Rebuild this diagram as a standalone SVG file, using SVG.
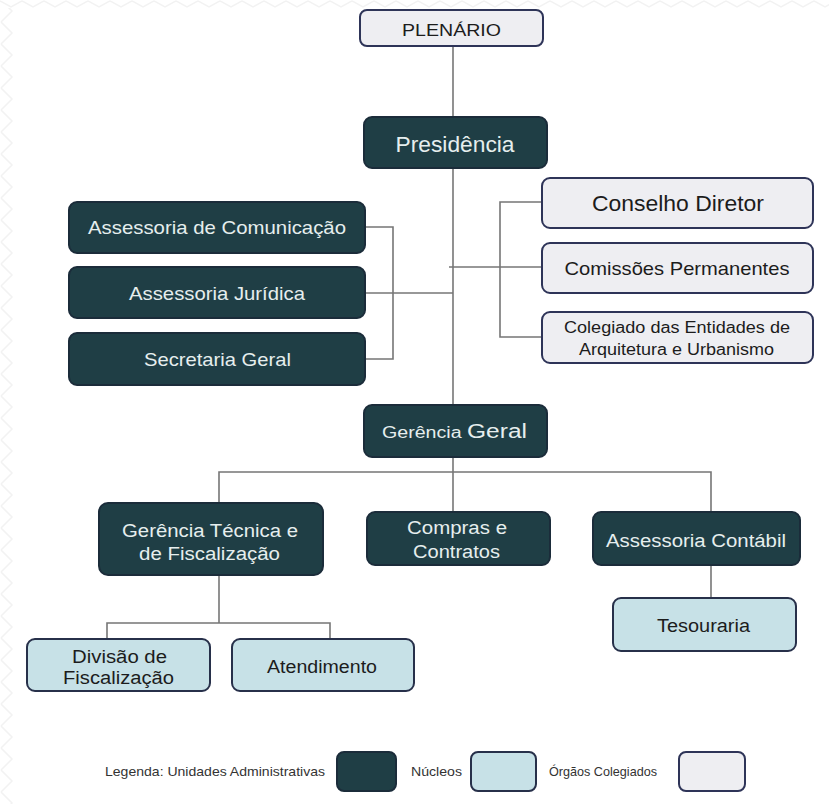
<svg xmlns="http://www.w3.org/2000/svg" width="829" height="804" viewBox="0 0 829 804">
  <defs>
    <pattern id="zzTop" x="0" y="0" width="22" height="8" patternUnits="userSpaceOnUse">
      <path d="M0 1 L11 7 L22 1" fill="none" stroke="#f2f2f2" stroke-width="1.5"/>
    </pattern>
    <pattern id="zzLeft" x="0" y="0" width="14" height="22" patternUnits="userSpaceOnUse">
      <path d="M1 0 L12 11 L1 22" fill="none" stroke="#f2f2f2" stroke-width="1.5"/>
    </pattern>
  </defs>
  <style>
    .adm { fill: #1f3e45; stroke: #1b2c3a; stroke-width: 2; }
    .nuc { fill: #c7e1e7; stroke: #27304a; stroke-width: 2; }
    .col { fill: #eeeef2; stroke: #2e3458; stroke-width: 2; }
    .tw { fill: #e6eeee; font-family: "Liberation Sans", Arial, sans-serif; text-anchor: middle; }
    .tk { fill: #1c1c1c; font-family: "Liberation Sans", Arial, sans-serif; text-anchor: middle; }
    .lg { fill: #333; font-family: "Liberation Sans", Arial, sans-serif; font-size: 13px; }
    .ln { fill: none; stroke: #767676; stroke-width: 1.6; }
  </style>
  <rect width="829" height="804" fill="#ffffff"/>
  <rect x="0" y="0" width="829" height="8" fill="url(#zzTop)"/>
  <rect x="0" y="8" width="14" height="796" fill="url(#zzLeft)"/>

  <g id="connectors" class="ln">
    <path d="M453 47 V117"/>
    <path d="M453 168 V405"/>
    <path d="M365 227 H393 V359 H365"/>
    <path d="M365 293 H453"/>
    <path d="M542 202 H500 V337 H542"/>
    <path d="M449 267 H542"/>
    <path d="M219 503 V472 H711 V512"/>
    <path d="M453 457 V512"/>
    <path d="M219 575 V623"/>
    <path d="M107 639 V623 H330 V639"/>
    <path d="M711 565 V598"/>
  </g>

  <g id="plenario">
    <rect class="col" x="360" y="10" width="183" height="36" rx="7"/>
    <text class="tk" x="451.5" y="36" font-size="17" textLength="99" lengthAdjust="spacingAndGlyphs">PLENÁRIO</text>
  </g>
  <g id="presidencia">
    <rect class="adm" x="364" y="117" width="183" height="51" rx="8"/>
    <text class="tw" x="455" y="152" font-size="22" textLength="119" lengthAdjust="spacingAndGlyphs">Presidência</text>
  </g>
  <g id="conselho-diretor">
    <rect class="col" x="542" y="178" width="271" height="50" rx="8"/>
    <text class="tk" x="678" y="211" font-size="22" textLength="172" lengthAdjust="spacingAndGlyphs">Conselho Diretor</text>
  </g>
  <g id="comissoes">
    <rect class="col" x="542" y="243" width="271" height="50" rx="8"/>
    <text class="tk" x="677" y="275" font-size="19" textLength="225" lengthAdjust="spacingAndGlyphs">Comissões Permanentes</text>
  </g>
  <g id="colegiado">
    <rect class="col" x="542" y="312" width="271" height="51" rx="8"/>
    <text class="tk" x="677" y="333" font-size="16" textLength="226" lengthAdjust="spacingAndGlyphs">Colegiado das Entidades de</text>
    <text class="tk" x="676.5" y="355" font-size="16" textLength="195" lengthAdjust="spacingAndGlyphs">Arquitetura e Urbanismo</text>
  </g>
  <g id="assessoria-comunicacao">
    <rect class="adm" x="69" y="202" width="296" height="51" rx="8"/>
    <text class="tw" x="217" y="234" font-size="19" textLength="258" lengthAdjust="spacingAndGlyphs">Assessoria de Comunicação</text>
  </g>
  <g id="assessoria-juridica">
    <rect class="adm" x="69" y="267" width="296" height="51" rx="8"/>
    <text class="tw" x="217" y="300" font-size="19" textLength="176" lengthAdjust="spacingAndGlyphs">Assessoria Jurídica</text>
  </g>
  <g id="secretaria-geral">
    <rect class="adm" x="69" y="333" width="296" height="52" rx="8"/>
    <text class="tw" x="217.5" y="366" font-size="19" textLength="147" lengthAdjust="spacingAndGlyphs">Secretaria Geral</text>
  </g>
  <g id="gerencia-geral">
    <rect class="adm" x="364" y="405" width="183" height="52" rx="8"/>
    <text class="tw" x="454.5" y="438" textLength="145" lengthAdjust="spacingAndGlyphs"><tspan font-size="16">Gerência </tspan><tspan font-size="20">Geral</tspan></text>
  </g>
  <g id="gerencia-tecnica">
    <rect class="adm" x="99" y="503" width="224" height="72" rx="9"/>
    <text class="tw" x="210" y="537" font-size="18" textLength="176" lengthAdjust="spacingAndGlyphs">Gerência Técnica e</text>
    <text class="tw" x="209.5" y="560" font-size="18" textLength="141" lengthAdjust="spacingAndGlyphs">de Fiscalização</text>
  </g>
  <g id="compras">
    <rect class="adm" x="367" y="512" width="183" height="53" rx="8"/>
    <text class="tw" x="457" y="534" font-size="18" textLength="100" lengthAdjust="spacingAndGlyphs">Compras e</text>
    <text class="tw" x="456.5" y="558" font-size="18" textLength="87" lengthAdjust="spacingAndGlyphs">Contratos</text>
  </g>
  <g id="assessoria-contabil">
    <rect class="adm" x="593" y="512" width="207" height="53" rx="8"/>
    <text class="tw" x="696" y="547" font-size="18" textLength="180" lengthAdjust="spacingAndGlyphs">Assessoria Contábil</text>
  </g>
  <g id="tesouraria">
    <rect class="nuc" x="613" y="598" width="183" height="53" rx="8"/>
    <text class="tk" x="703.5" y="632" font-size="18" textLength="93" lengthAdjust="spacingAndGlyphs">Tesouraria</text>
  </g>
  <g id="divisao-fiscalizacao">
    <rect class="nuc" x="27" y="639" width="183" height="52" rx="8"/>
    <text class="tk" x="119.5" y="663" font-size="18" textLength="95" lengthAdjust="spacingAndGlyphs">Divisão de</text>
    <text class="tk" x="118.5" y="684" font-size="18" textLength="111" lengthAdjust="spacingAndGlyphs">Fiscalização</text>
  </g>
  <g id="atendimento">
    <rect class="nuc" x="232" y="639" width="182" height="52" rx="8"/>
    <text class="tk" x="322" y="673" font-size="18" textLength="110" lengthAdjust="spacingAndGlyphs">Atendimento</text>
  </g>

  <g id="legenda">
    <text class="lg" x="105" y="776" textLength="220" lengthAdjust="spacingAndGlyphs">Legenda: Unidades Administrativas</text>
    <rect class="adm" x="337" y="752" width="59" height="39" rx="7"/>
    <text class="lg" x="411" y="776" textLength="51" lengthAdjust="spacingAndGlyphs">Núcleos</text>
    <rect class="nuc" x="471" y="752" width="65" height="39" rx="7"/>
    <text class="lg" x="549" y="776" textLength="108" lengthAdjust="spacingAndGlyphs">Órgãos Colegiados</text>
    <rect class="col" x="679" y="752" width="66" height="39" rx="7"/>
  </g>
</svg>
